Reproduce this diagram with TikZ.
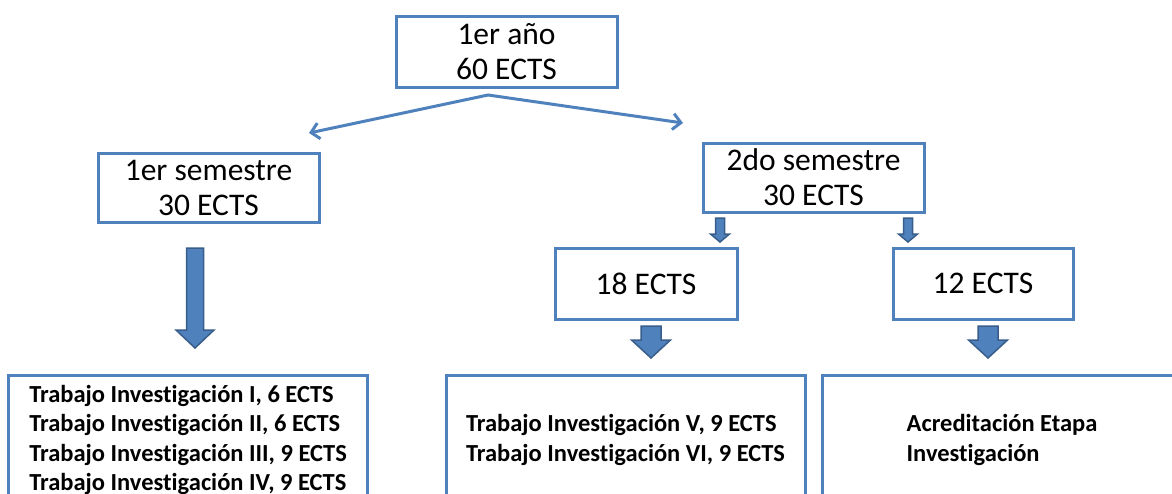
\documentclass[tikz,border=0pt]{standalone}
\usepackage{fontspec}
\setmainfont{Carlito}[Ligatures=NoCommon]
\usetikzlibrary{arrows.meta}
\definecolor{boxblue}{RGB}{79,129,189}
\definecolor{arrowedge}{RGB}{56,93,138}

\begin{document}
\begin{tikzpicture}[x=1pt,y=-1pt]
\tikzstyle{every node}+=[inner sep=0pt]
\tikzstyle{yearbox}=[draw=boxblue, line width=3pt, fill=white, align=center, font=\fontsize{31.5}{35}\selectfont]
\tikzstyle{subjbox}=[draw=boxblue, line width=3pt, fill=white, align=left, minimum width=359pt, minimum height=130pt, font=\fontsize{24.5}{29.5}\selectfont\bfseries]
\tikzstyle{blockarrow}=[fill=boxblue, draw=arrowedge, line width=1.5pt, line join=miter]
\clip (0,0) rectangle (1172,493);
% year and semesters
\node [yearbox, minimum width=221pt, minimum height=71pt] (anio) at (506.5,51.5) {1er año\\60 ECTS};
\node [yearbox, minimum width=221pt, minimum height=69pt] (sem1) at (208.5,187.5) {1er semestre\\30 ECTS};
\node [yearbox, minimum width=221pt, minimum height=69pt] (sem2) at (813.5,177.5) {2do semestre\\30 ECTS};
\node [yearbox, minimum width=182pt, minimum height=71pt] (ects18) at (646,283.5) {18 ECTS};
\node [yearbox, minimum width=180pt, minimum height=71pt] (ects12) at (983,283.5) {12 ECTS};
% subjects
\node [subjbox] (trab1) at (188,440) {Trabajo Investigación I, 6 ECTS\\Trabajo Investigación II, 6 ECTS\\Trabajo Investigación III, 9 ECTS\\Trabajo Investigación IV, 9 ECTS};
\node [subjbox] (trab2) at (625.5,440) {Trabajo Investigación V, 9 ECTS\\Trabajo Investigación VI, 9 ECTS};
\node [subjbox] (acred) at (1002,440) {Acreditación Etapa\\Investigación};
% split arrow
\coordinate (split) at (488,95);
\coordinate (left) at (309,133);
\coordinate (right) at (683,123);
\draw [boxblue, line width=3pt, {Straight Barb[length=8pt,width=16pt]}-{Straight Barb[length=8pt,width=16pt]}] (left) -- (split) -- (right);
% block arrows
\filldraw [blockarrow] (186.5,248) -- (203.5,248) -- (203.5,330) -- (214,330) -- (195,348) -- (176,330) -- (186.5,330) -- cycle;
\filldraw [blockarrow] (715.5,218) -- (724.5,218) -- (724.5,234) -- (729.5,234) -- (720,242) -- (710.5,234) -- (715.5,234) -- cycle;
\filldraw [blockarrow] (903.5,218) -- (912.5,218) -- (912.5,234) -- (917.5,234) -- (908,242) -- (898.5,234) -- (903.5,234) -- cycle;
\filldraw [blockarrow] (641,326) -- (661,326) -- (661,340) -- (670.5,340) -- (651,358) -- (631.5,340) -- (641,340) -- cycle;
\filldraw [blockarrow] (978,326) -- (998,326) -- (998,340) -- (1007.5,340) -- (988,358) -- (968.5,340) -- (978,340) -- cycle;
\end{tikzpicture}
\end{document}
